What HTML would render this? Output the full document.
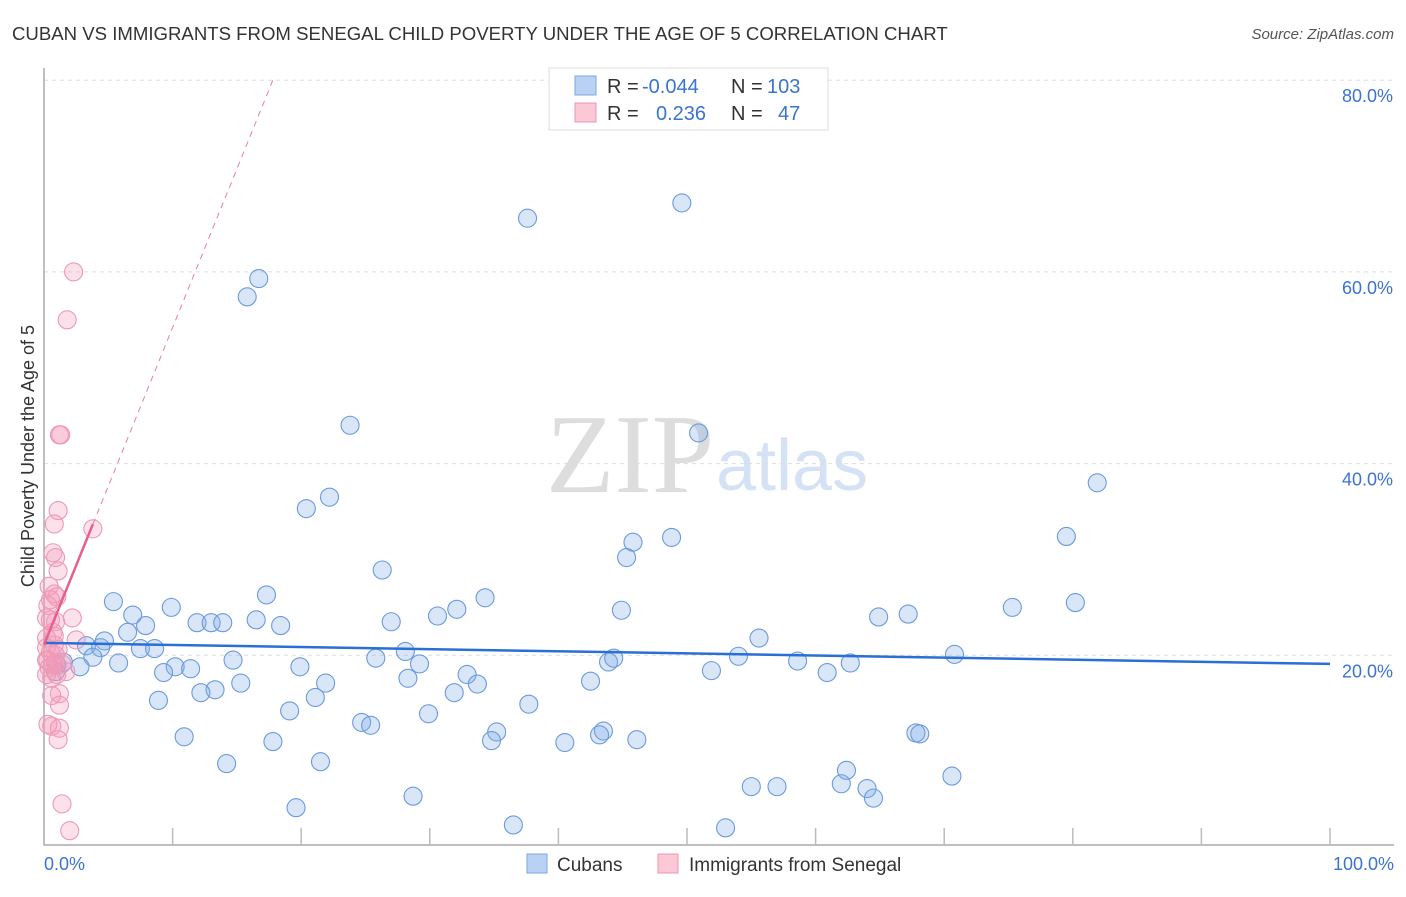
<!DOCTYPE html>
<html><head><meta charset="utf-8"><style>
body{margin:0;background:#fff;font-family:"Liberation Sans",sans-serif;}
svg text{font-family:"Liberation Sans",sans-serif;}
</style></head><body>
<svg id="chart" width="1406" height="892" xmlns="http://www.w3.org/2000/svg">
<text x="12" y="40" font-size="18.6" fill="#333">CUBAN VS IMMIGRANTS FROM SENEGAL CHILD POVERTY UNDER THE AGE OF 5 CORRELATION CHART</text>
<text x="1394" y="39" font-size="15" fill="#555" text-anchor="end" font-style="italic">Source: ZipAtlas.com</text>
<text x="714" y="492" font-size="112" fill="#ddd" text-anchor="end" style="font-family:'Liberation Serif',serif">ZIP</text>
<text x="716" y="490" font-size="72" fill="#d5e2f5">atlas</text>
<g id="grid"></g>
<g id="pts"></g>
<g id="lines"></g>
<text transform="translate(34,456) rotate(-90)" font-size="18" fill="#333" text-anchor="middle">Child Poverty Under the Age of 5</text>
<text x="44" y="870" font-size="18" fill="#3a74d0">0.0%</text>
<text x="1394" y="870" font-size="18" fill="#3a74d0" text-anchor="end">100.0%</text>
<g>
<rect x="549" y="68" width="279" height="62" fill="#fff" stroke="#ddd"/>
<rect x="575" y="76" width="21" height="19" fill="#b9d1f2" stroke="#7ea7e0"/>
<rect x="575" y="103" width="21" height="19" fill="#fbc8d6" stroke="#ee94b0"/>
<text x="607" y="93" font-size="20" fill="#333">R =</text>
<text x="642" y="93" font-size="20" fill="#3a74d0">-0.044</text>
<text x="731" y="93" font-size="20" fill="#333">N =</text>
<text x="767" y="93" font-size="20" fill="#3a74d0">103</text>
<text x="607" y="120" font-size="20" fill="#333">R =</text>
<text x="656" y="120" font-size="20" fill="#3a74d0">0.236</text>
<text x="731" y="120" font-size="20" fill="#333">N =</text>
<text x="778" y="120" font-size="20" fill="#3a74d0">47</text>
</g>
<g>
<rect x="527" y="854" width="20" height="19" fill="#b9d1f2" stroke="#7ea7e0"/>
<text x="557" y="871" font-size="19" fill="#333">Cubans</text>
<rect x="658" y="854" width="20" height="19" fill="#fbc8d6" stroke="#ee94b0"/>
<text x="689" y="871" font-size="19" fill="#333">Immigrants from Senegal</text>
</g>
</svg>
<script>
const yTicks=[20,40,60,80];
const blueX=[37.6,49.6,16.7,15.8,23.8,50.9,81.9,22.2,20.4,48.8,45.8,79.5,45.3,26.3,17.3,34.3,5.4,80.2,44.9,75.3,32.1,30.6,64.9,67.2,6.9,9.9,11.9,13.0,13.9,16.5,18.4,27.0,7.9,6.5,55.6,4.7,3.3,4.4,7.5,8.6,28.1,54.0,70.8,14.7,3.8,5.8,58.6,62.7,43.9,44.3,29.2,25.8,10.2,11.4,19.9,9.3,32.9,51.9,60.9,2.8,1.5,1.0,0.9,28.3,33.7,15.3,21.9,42.5,13.3,31.9,12.2,8.9,21.1,37.7,19.1,29.9,24.7,25.4,43.5,35.2,34.8,43.2,46.1,40.5,10.9,17.8,67.8,68.1,14.2,21.5,62.4,70.6,55.0,57.0,62.0,64.0,64.5,28.7,19.6,36.5,53.0];
const blueY=[65.6,67.2,59.3,57.4,44.0,43.2,38.0,36.5,35.3,32.3,31.8,32.4,30.2,28.9,26.3,26.0,25.6,25.5,24.7,25.0,24.8,24.1,24.0,24.3,24.2,25.0,23.4,23.4,23.4,23.7,23.1,23.5,23.1,22.4,21.8,21.5,21.0,20.8,20.7,20.7,20.4,19.9,20.1,19.5,19.8,19.2,19.4,19.2,19.3,19.7,19.1,19.7,18.8,18.6,18.8,18.2,18.0,18.4,18.2,18.8,19.3,19.0,18.3,17.6,17.0,17.1,17.1,17.3,16.4,16.1,16.1,15.3,15.6,14.9,14.2,13.9,13.0,12.7,12.1,12.0,11.1,11.7,11.2,10.9,11.5,11.0,11.9,11.8,8.7,8.9,8.0,7.4,6.3,6.3,6.6,6.1,5.1,5.3,4.1,2.3,2.0];
const pinkX=[2.3,1.8,1.2,1.3,3.8,1.1,0.8,0.7,0.9,1.1,0.4,0.8,1.0,0.5,0.3,2.2,0.9,0.7,0.2,0.8,2.5,0.2,0.5,0.9,0.2,1.4,0.4,1.0,0.6,1.7,0.9,1.2,0.6,1.2,0.3,0.6,1.2,1.1,1.4,2.0,0.2,0.5,0.8,0.3,0.7,1.1,0.2];
const pinkY=[60.0,55.0,43.0,43.0,33.2,35.1,33.7,30.7,30.2,28.8,27.2,26.4,26.1,25.8,25.2,23.9,23.5,22.4,21.8,22.0,21.6,20.8,20.3,20.0,19.5,19.1,18.7,18.0,17.6,18.3,19.2,16.0,15.8,14.8,12.8,12.6,12.4,11.2,4.5,1.7,23.9,23.7,21.1,19.5,19.0,20.6,18.0];
const blueTrend=[21.3,19.1];
const pinkTrend=[21.1,3.31];
const NS='http://www.w3.org/2000/svg';
const X=v=>44+v*12.86, Y=v=>847-v*9.585;
function mk(t,a,p){const e=document.createElementNS(NS,t);for(const k in a)e.setAttribute(k,a[k]);p.appendChild(e);return e;}
const g=document.getElementById('grid');
yTicks.forEach(t=>{
 const l=mk('line',{x1:44,x2:1394,y1:Y(t),y2:Y(t),stroke:'#ddd','stroke-dasharray':'4,4'},g);
 
 
 const tx=mk('text',{x:1393,y:Y(t)+22,'font-size':18,fill:'#3a74d0','text-anchor':'end'},g);
 tx.textContent=t.toFixed(1)+'%';
 
 
});
const ax=mk('path',{d:'M44,68 V845 H1394',fill:'none',stroke:'#aaa','stroke-width':1.5},g);


for(let i=1;i<=10;i++){const tk=mk('line',{x1:X(i*10),x2:X(i*10),y1:828,y2:845,stroke:'#bbb','stroke-width':1.5},g);
 
 }
const P=document.getElementById('pts');
blueX.forEach((x,i)=>{const c=mk('circle',{cx:X(x),cy:Y(blueY[i]),r:9,fill:'rgba(130,172,232,0.3)',stroke:'#6a9ade','stroke-width':1.1},P);
 
 });
pinkX.forEach((x,i)=>{const c=mk('circle',{cx:X(x),cy:Y(pinkY[i]),r:9,fill:'rgba(245,155,185,0.3)',stroke:'#ee98b4','stroke-width':1.1},P);
 
 });
const L=document.getElementById('lines');
const bl=mk('line',{x1:X(0),y1:Y(blueTrend[0]),x2:X(100),y2:Y(blueTrend[1]),stroke:'#2a6fd6','stroke-width':2.5},L);


const pe=(80-pinkTrend[0])/pinkTrend[1];
const pd=mk('line',{x1:X(3.8),y1:Y(pinkTrend[0]+pinkTrend[1]*3.8),x2:X(pe),y2:Y(80),stroke:'#e87fa0','stroke-width':1,'stroke-dasharray':'6,5'},L);


const ps=mk('line',{x1:X(0),y1:Y(pinkTrend[0]),x2:X(3.8),y2:Y(pinkTrend[0]+pinkTrend[1]*3.8),stroke:'#e8608a','stroke-width':2.5},L);


</script>
</body></html>
